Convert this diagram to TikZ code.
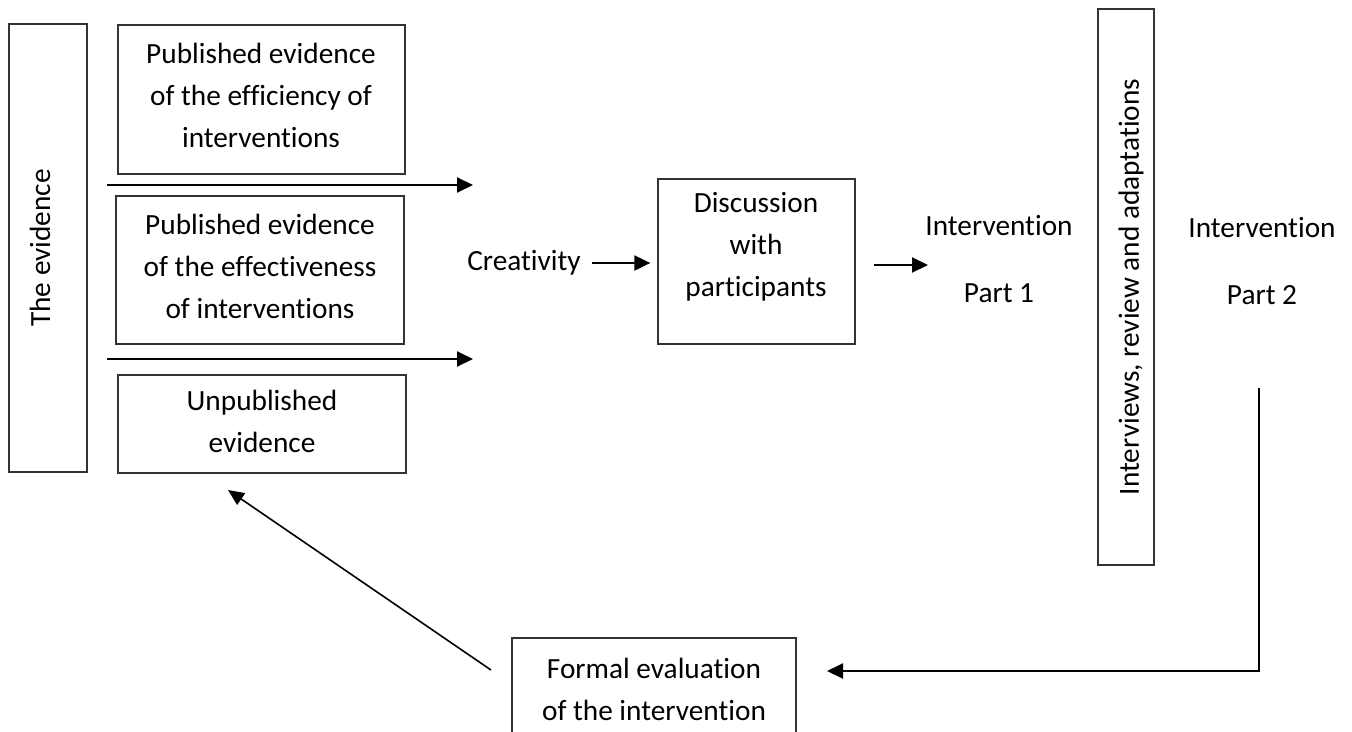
\documentclass[tikz,border=0pt]{standalone}
\usepackage{fontspec}
\setmainfont{Carlito}[Ligatures=NoCommon]
\usetikzlibrary{arrows.meta}
\begin{document}
\begin{tikzpicture}[x=1pt,y=-1pt,
  every node/.style={font=\fontsize{29.3}{42}\selectfont, inner sep=0pt},
  txt/.style={align=center},
  frame/.style 2 args={draw=black!80, line width=1.3pt, minimum width=#1, minimum height=#2},
  arr/.style={-{Triangle[length=16pt,width=15pt]}, line width=2pt},
  thinarr/.style={-{Triangle[length=16pt,width=14pt]}, line width=1.6pt}]
\path[use as bounding box] (0,0) rectangle (1352,731);
\clip (0,0) rectangle (1352,731);

% left column: the evidence and its three sources
\node[frame={78pt}{448pt}] (evid) at (48,248) {};
\node[rotate=90] (evidt) at (40,248) {The evidence};
\node[frame={287pt}{149pt}] (pub1) at (261.5,99.5) {};
\node[txt] (pub1t) at (261,95) {Published evidence\\of the efficiency of\\interventions};
\node[frame={288pt}{148pt}] (pub2) at (260,270) {};
\node[txt] (pub2t) at (260,266) {Published evidence\\of the effectiveness\\of interventions};
\node[frame={288pt}{98pt}] (unpub) at (262,424) {};
\node[txt] (unpubt) at (262,421) {Unpublished\\evidence};

% middle: creativity and discussion
\node (creat) at (524,263) {Creativity};
\node[frame={197pt}{165pt}] (disc) at (756.5,261.5) {};
\node[txt] (disct) at (756,247) {Discussion\\with\\participants};
\node (int1) at (999,226) {Intervention};
\node (part1) at (999,293) {Part 1};

% right: review and second part
\node[frame={56pt}{556pt}] (rev) at (1126,287) {};
\node[rotate=90] (revt) at (1131,287) {Interviews, review and adaptations};
\node (int2) at (1262,228) {Intervention};
\node (part2) at (1262,295) {Part 2};

% bottom: formal evaluation
\node[frame={284pt}{104pt}] (formal) at (654,690) {};
\node[txt] (formalt) at (654,689) {Formal evaluation\\of the intervention};

% connectors
\coordinate (a1s) at (107,185);
\coordinate (a1e) at (473,185);
\coordinate (a2s) at (107,359);
\coordinate (a2e) at (473,359);
\draw[arr] (a1s) -- (a1e);
\draw[arr] (a2s) -- (a2e);
\draw[arr, shorten <=11pt, shorten >=7pt] (creat.east) -- (disc.west |- creat.east);
\coordinate (p1tip) at (928,265);
\draw[arr, shorten <=18pt] (disc.east |- p1tip) -- (p1tip);
\coordinate (loopstart) at (1259,388);
\coordinate (evaltip) at (827,671);
\draw[arr] (loopstart) |- (evaltip);
\coordinate (fbs) at (491,670);
\coordinate (fbe) at (228,490);
\draw[thinarr] (fbs) -- (fbe);
\end{tikzpicture}
\end{document}
